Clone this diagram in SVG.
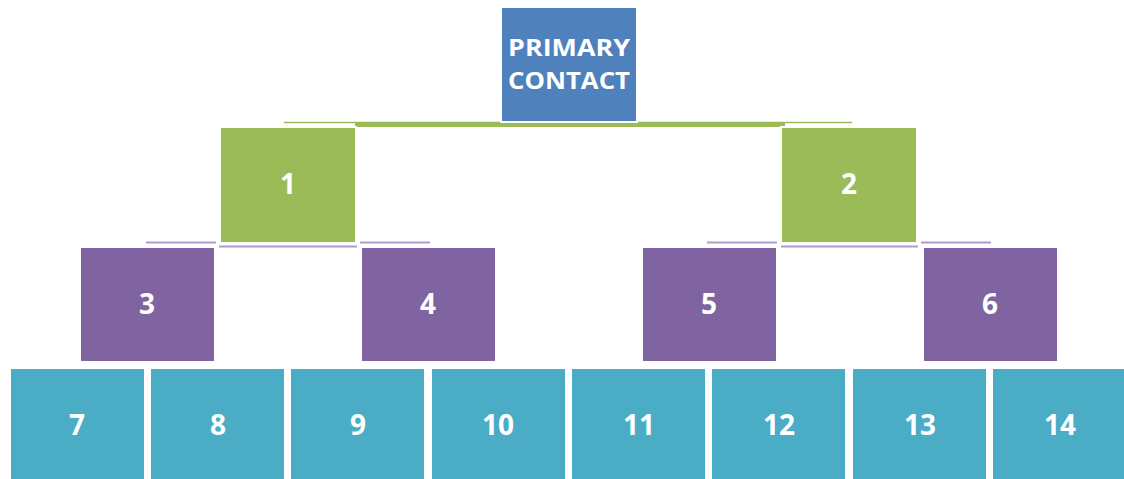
<svg xmlns="http://www.w3.org/2000/svg" width="1124" height="479" viewBox="0 0 1124 479">
  <style>
    .box { stroke: #ffffff; stroke-width: 2; }
    .blue { fill: #4F81BD; }
    .green { fill: #9BBB59; }
    .purple { fill: #8064A2; }
    .teal { fill: #4BACC6; }
    .lbl { fill: #ffffff; font-family: "Open Sans", "Liberation Sans", sans-serif; font-weight: bold; font-size: 28px; text-anchor: middle; dominant-baseline: central; }
    .title { font-size: 23px; }
    .gline { stroke: #9BBB59; fill: none; }
    .pline { stroke: #B09CC8; fill: none; stroke-width: 2; }
  </style>
  <rect width="1124" height="479" fill="#ffffff"/>

  <!-- connectors -->
  <g id="connectors">
    <line class="gline" x1="284" y1="122.5" x2="852" y2="122.5" stroke-width="1.5"/>
    <rect x="355" y="122" width="430" height="5" fill="#9BBB59"/>
    <line class="pline" x1="146" y1="242.5" x2="216" y2="242.5"/>
    <line class="pline" x1="360" y1="242.5" x2="430" y2="242.5"/>
    <line class="pline" x1="219" y1="246.5" x2="357" y2="246.5"/>
    <line class="pline" x1="707" y1="242.5" x2="777" y2="242.5"/>
    <line class="pline" x1="921" y1="242.5" x2="991" y2="242.5"/>
    <line class="pline" x1="781" y1="246.5" x2="918" y2="246.5"/>
  </g>

  <g id="primary">
    <rect class="box blue" x="501" y="7" width="136" height="115"/>
    <text class="lbl title" x="569" y="47" textLength="122" lengthAdjust="spacingAndGlyphs">PRIMARY</text>
    <text class="lbl title" x="569" y="80" textLength="122" lengthAdjust="spacingAndGlyphs">CONTACT</text>
  </g>

  <g id="n1"><rect class="box green" x="220" y="127" width="136" height="116"/><text class="lbl" x="288" y="183">1</text></g>
  <g id="n2"><rect class="box green" x="781" y="127" width="136" height="116"/><text class="lbl" x="849" y="183">2</text></g>

  <g id="n3"><rect class="box purple" x="80" y="247" width="135" height="115"/><text class="lbl" x="147" y="303">3</text></g>
  <g id="n4"><rect class="box purple" x="361" y="247" width="135" height="115"/><text class="lbl" x="428" y="303">4</text></g>
  <g id="n5"><rect class="box purple" x="642" y="247" width="135" height="115"/><text class="lbl" x="709" y="303">5</text></g>
  <g id="n6"><rect class="box purple" x="923" y="247" width="135" height="115"/><text class="lbl" x="990" y="303">6</text></g>

  <g id="n7"><rect class="box teal" x="10" y="368" width="135" height="113"/><text class="lbl" x="77" y="424">7</text></g>
  <g id="n8"><rect class="box teal" x="150" y="368" width="135" height="113"/><text class="lbl" x="218" y="424">8</text></g>
  <g id="n9"><rect class="box teal" x="290" y="368" width="135" height="113"/><text class="lbl" x="358" y="424">9</text></g>
  <g id="n10"><rect class="box teal" x="431" y="368" width="135" height="113"/><text class="lbl" x="498" y="424">10</text></g>
  <g id="n11"><rect class="box teal" x="571" y="368" width="135" height="113"/><text class="lbl" x="639" y="424">11</text></g>
  <g id="n12"><rect class="box teal" x="711" y="368" width="135" height="113"/><text class="lbl" x="779" y="424">12</text></g>
  <g id="n13"><rect class="box teal" x="852" y="368" width="135" height="113"/><text class="lbl" x="920" y="424">13</text></g>
  <g id="n14"><rect class="box teal" x="992" y="368" width="135" height="113"/><text class="lbl" x="1060" y="424">14</text></g>
</svg>
